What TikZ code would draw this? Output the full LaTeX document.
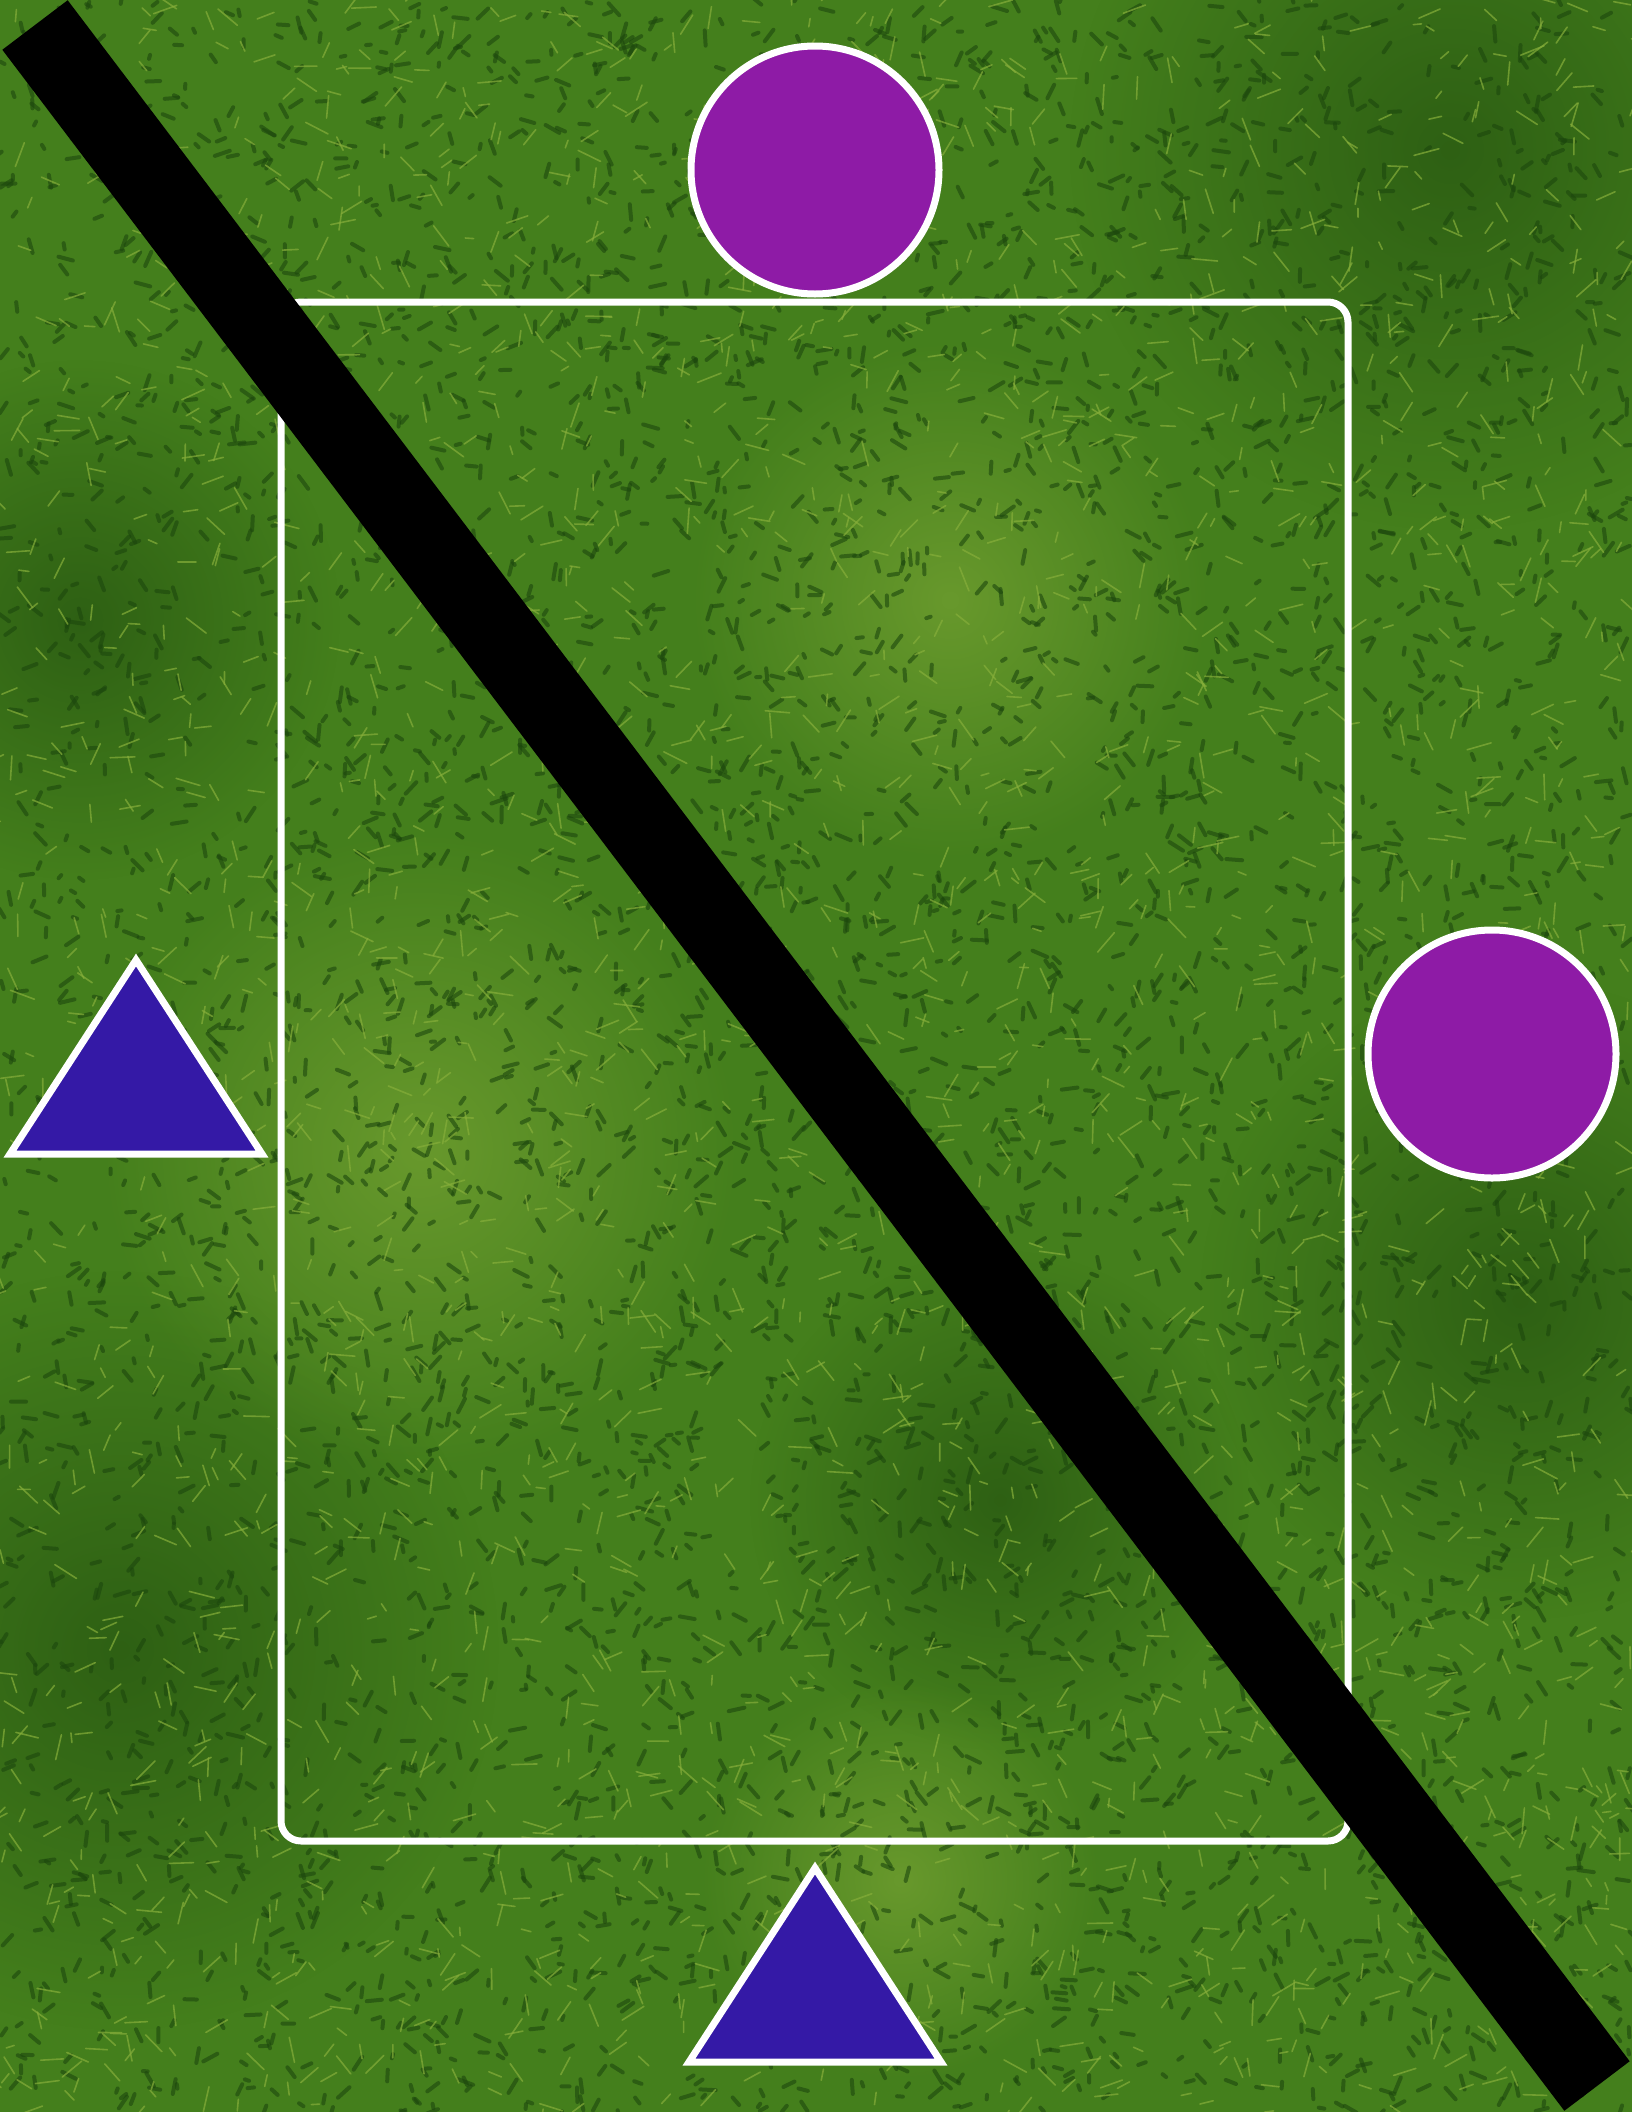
\documentclass[tikz,border=0pt]{standalone}
\usetikzlibrary{fadings}
\definecolor{grass}{HTML}{447F1C}
\definecolor{grassdark}{HTML}{1C470D}
\definecolor{grasslight}{HTML}{86AE3A}
\definecolor{conepurple}{HTML}{8E1BA6}
\definecolor{coneblue}{HTML}{3419A6}
\tikzfading[name=softspot, inner color=transparent!0, outer color=transparent!100]
\begin{document}
\begin{tikzpicture}[x=1pt, y=-1pt,
    marker/.style={draw=white, line width=7pt},
    patch/.style={path fading=softspot, opacity=0.55}]
    % Field
    \useasboundingbox (0,0) rectangle (1632,2112);
    \clip (0,0) rectangle (1632,2112);
    \fill[grass] (0,0) rectangle (1632,2112);

    % Darker and lighter patches of grass
    \fill[grassdark, patch] (1450,150) circle (380);
    \fill[grassdark, patch] (80,620) circle (260);
    \fill[grassdark, patch] (120,1650) circle (380);
    \fill[grassdark, patch] (1520,1300) circle (320);
    \fill[grassdark, patch] (1000,1500) circle (250);
    \fill[grasslight, patch] (420,1150) circle (320);
    \fill[grasslight, patch] (950,600) circle (260);
    \fill[grasslight, patch] (900,1880) circle (200);

    % Blades
    \pgfmathsetseed{7}
    \foreach \i in {1,...,5200}{
        \pgfmathsetmacro\px{rnd*1632}
        \pgfmathsetmacro\py{rnd*2112}
        \pgfmathsetmacro\pa{rnd*360}
        \pgfmathsetmacro\pl{4+rnd*12}
        \draw[grassdark, line width=4pt, line cap=round, opacity=0.6] (\px,\py) -- ++(\pa:\pl);
    }
    \foreach \i in {1,...,2600}{
        \pgfmathsetmacro\px{rnd*1632}
        \pgfmathsetmacro\py{rnd*2112}
        \pgfmathsetmacro\pa{rnd*360}
        \pgfmathsetmacro\pl{8+rnd*18}
        \draw[grasslight, line width=1.6pt, line cap=round, opacity=0.7] (\px,\py) -- ++(\pa:\pl);
    }

    % Pitch outline
    \draw[marker, rounded corners=20pt] (281,302) rectangle (1348,1841);

    % Cones
    \draw[marker, fill=conepurple] (815,170) circle (124);
    \draw[marker, fill=conepurple] (1492,1054) circle (124);
    \draw[marker, fill=coneblue] (136,960) -- (262,1154) -- (10,1154) -- cycle;
    \draw[marker, fill=coneblue] (815,1868) -- (941,2062) -- (689,2062) -- cycle;

    % Diagonal bar
    \draw[black, line width=82pt] (35,25) -- (1597,2086);
\end{tikzpicture}
\end{document}
